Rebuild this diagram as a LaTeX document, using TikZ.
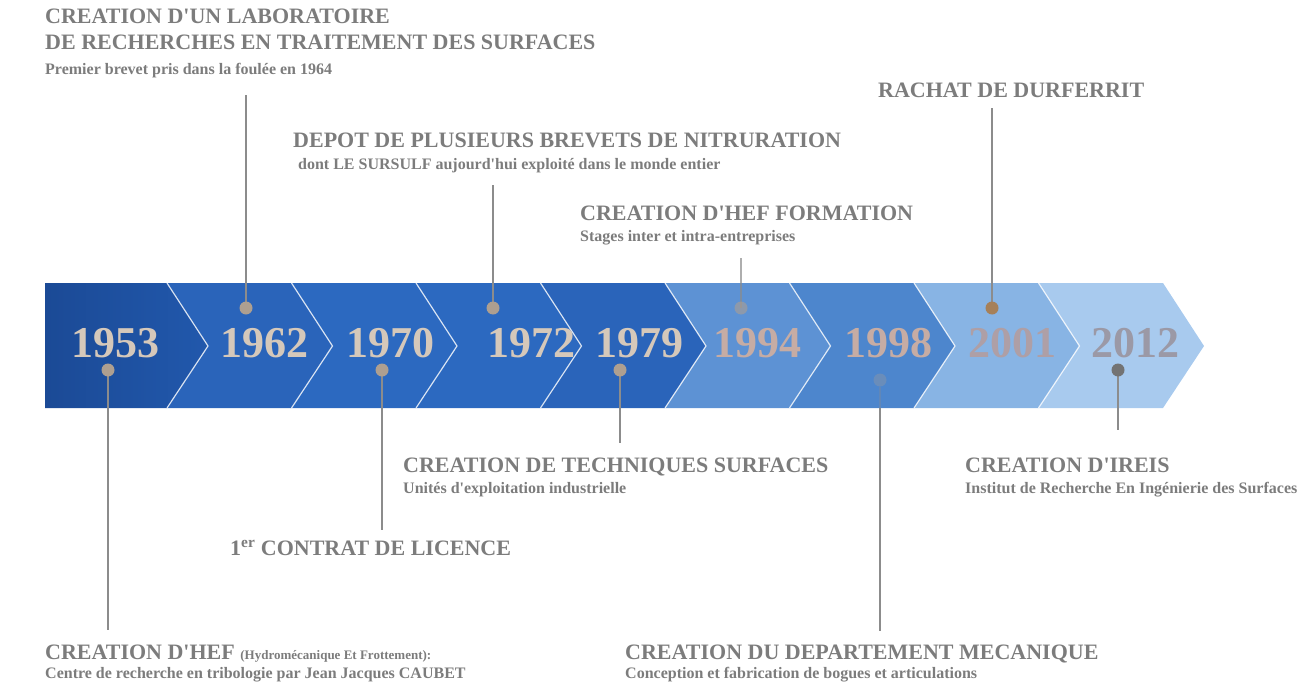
\documentclass[tikz,border=0pt]{standalone}
\usepackage{fontspec}
\usepackage{xcolor}
\usepackage{tikz}
\setmainfont{Liberation Serif}
\usetikzlibrary{positioning}

% band colours, dark to light
\definecolor{segA}{HTML}{1B4A96}
\definecolor{segB}{HTML}{2158AC}
\definecolor{segC}{HTML}{2A64BA}
\definecolor{segD}{HTML}{2C69C0}
\definecolor{segE}{HTML}{5D92D4}
\definecolor{segF}{HTML}{4D86CD}
\definecolor{segG}{HTML}{88B4E4}
\definecolor{segH}{HTML}{A8CAEE}
% text and pins
\definecolor{yrlight}{HTML}{D5C8BA}
\definecolor{yrpink}{HTML}{C6ACA4}
\definecolor{yrfaint}{HTML}{AE9FA6}
\definecolor{yrgray}{HTML}{9B99A6}
\definecolor{txtgray}{HTML}{7C7C7C}
\definecolor{pingray}{HTML}{8C8C8C}
\definecolor{pintan}{HTML}{AE9F90}

\newcommand{\yearfont}{\fontsize{44bp}{44bp}\selectfont\bfseries}
\newcommand{\headfont}{\fontsize{22bp}{25bp}\selectfont\bfseries}
\newcommand{\smallhead}{\fontsize{13bp}{15bp}\selectfont\bfseries}
\newcommand{\subfont}{\fontsize{16bp}{18bp}\selectfont\bfseries}
\newcommand{\ap}{\textquotesingle}

% pins sit above their stems
\pgfdeclarelayer{front}
\pgfsetlayers{main,front}

\begin{document}
\begin{tikzpicture}[x=1bp, y=-1bp,
    year/.style={font=\yearfont, anchor=base, inner sep=0},
    head/.style={font=\headfont, text=txtgray, anchor=base west, inner sep=0},
    sub/.style={font=\subfont, text=txtgray, anchor=base west, inner sep=0},
    stem/.style={draw=pingray, line width=2.6bp},
    pin/.style={circle, fill=pintan, inner sep=0, minimum size=13bp}]

    \useasboundingbox (0,0) rectangle (1311,682);

    % first block, flat on the left
    \shade[left color=segA, right color=segB]
        (45,283) -- (167,283) -- (208,346) -- (167,408) -- (45,408) -- cycle;

    % the chevrons
    \foreach \i/\c in {1/segC, 2/segD, 3/segD, 4/segC, 5/segE, 6/segF, 7/segG, 8/segH} {
        \pgfmathsetmacro\xl{167+124.5*(\i-1)}
        \pgfmathsetmacro\xr{\xl+124.5}
        \fill[\c] (\xl,283) -- (\xr,283) -- (\xr+41,346) -- (\xr,408)
            -- (\xl,408) -- (\xl+41,346) -- cycle;
    }

    % thin light borders between blocks
    \foreach \i in {0,...,7} {
        \pgfmathsetmacro\xb{167+124.5*\i}
        \draw[white, opacity=.8, line width=1.2bp] (\xb,283) -- (\xb+41,346) -- (\xb,408);
    }

    % years
    \foreach \yr/\x/\c in {1953/115/yrlight, 1962/264/yrlight, 1970/390/yrlight,
                           1972/531/yrlight, 1979/639/yrlight, 1994/757/yrpink,
                           1998/888/yrpink, 2001/1012/yrfaint, 2012/1135/yrgray}
        \node[year, text=\c] (y\yr) at (\x,357) {\yr};

    % labels above the band
    \node[head] (labA) at (45,24) {CREATION D\ap UN LABORATOIRE};
    \node[head] (labB) at (45,50) {DE RECHERCHES EN TRAITEMENT DES SURFACES};
    \node[sub] (labC) at (45,75) {Premier brevet pris dans la foulée en 1964};

    \node[head] (depA) at (293,147) {DEPOT DE PLUSIEURS BREVETS DE NITRURATION};
    \node[sub] (depB) at (298,169) {dont LE SURSULF aujourd\ap hui exploité dans le monde entier};

    \node[head] (forA) at (580,220) {CREATION D\ap HEF FORMATION};
    \node[sub] (forB) at (580,241) {Stages inter et intra-entreprises};

    \node[head] (rach) at (878,98) {RACHAT DE DURFERRIT};

    % labels below the band
    \node[head] (hefA) at (45,659) {CREATION D\ap HEF {\smallhead(Hydromécanique Et Frottement):}};
    \node[sub] (hefB) at (45,678) {Centre de recherche en tribologie par Jean Jacques CAUBET};

    \node[head] (lic) at (230,555) {1\textsuperscript{er} CONTRAT DE LICENCE};

    \node[head] (tecA) at (403,472) {CREATION DE TECHNIQUES SURFACES};
    \node[sub] (tecB) at (403,493) {Unités d\ap exploitation industrielle};

    \node[head] (mecA) at (625,659) {CREATION DU DEPARTEMENT MECANIQUE};
    \node[sub] (mecB) at (625,678) {Conception et fabrication de bogues et articulations};

    \node[head] (ireA) at (965,472) {CREATION D\ap IREIS};
    \node[sub] (ireB) at (965,493) {Institut de Recherche En Ingénierie des Surfaces};

    % pins on the band
    \begin{pgfonlayer}{front}
    \node[pin] (d1953) at (108,370) {};
    \node[pin] (d1962) at (246,308) {};
    \node[pin] (d1970) at (382,370) {};
    \node[pin] (d1972) at (493,308) {};
    \node[pin] (d1979) at (620,370) {};
    \node[pin, opacity=.6] (d1994) at (741,308) {};
    \node[pin, opacity=.3] (d1998) at (880,380) {};
    \node[pin, fill=brown!60!gray] (d2001) at (992,308) {};
    \node[pin, fill=gray!90!black] (d2012) at (1118,370) {};
    \end{pgfonlayer}

    % free ends of the stems
    \coordinate (e1953) at (108,630);
    \coordinate (e1962) at (246,95);
    \coordinate (e1970) at (382,530);
    \coordinate (e1972) at (493,185);
    \coordinate (e1979) at (620,443);
    \coordinate (e1994) at (741,258);
    \coordinate (b1998) at (880,408);
    \coordinate (e1998) at (880,631);
    \coordinate (e2001) at (992,108);
    \coordinate (e2012) at (1118,430);

    \draw[stem] (d1953.center) -- (e1953);
    \draw[stem] (d1962.center) -- (e1962);
    \draw[stem] (d1970.center) -- (e1970);
    \draw[stem] (d1972.center) -- (e1972);
    \draw[stem] (d1979.center) -- (e1979);
    \draw[stem, opacity=.7] (d1994.center) -- (e1994);
    \draw[stem, opacity=.3] (d1998) -- (b1998);
    \draw[stem] (b1998) -- (e1998);
    \draw[stem] (d2001.center) -- (e2001);
    \draw[stem] (d2012.center) -- (e2012);
\end{tikzpicture}
\end{document}
